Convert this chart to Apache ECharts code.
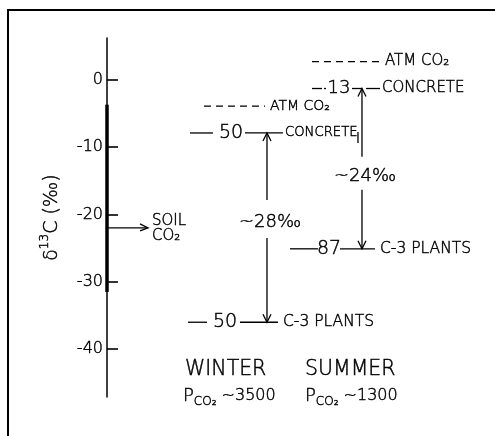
<!DOCTYPE html>
<html><head><meta charset="utf-8">
<script src="https://cdn.jsdelivr.net/npm/echarts@6/dist/echarts.min.js"></script>
<style>html,body{margin:0;padding:0;background:#fff}#c{width:495px;height:436px}</style>
</head><body><div id="c"></div>
<script>
// ---- data (δ13C values, ‰) ----
const seasons = ['WINTER', 'SUMMER'];
const pco2Values = ['~3500', '~1300'];
const atmCO2 = [-3.9, 2.7];
const concrete = [-7.9, -1.3];
const c3Plants = [-36.0, -25.1];
const concreteLabels = ['50', '13'];
const c3Labels = ['50', '87'];
const shiftLabels = ['~28‰', '~24‰'];
const soilCO2 = -22;
const soilRange = [-3.7, -31.5];
const yTicks = [0, -10, -20, -30, -40];

// ---- layout (pixel offsets relative to each column) ----
const colX = [42.1, 67.1];
const layout = [
  { atm: [-63, -2, 3, 14], con: [[-77, -54], [-22, 16]], conNum: [-36, 19], conLab: [18, 13.2], bar: [91, -1, 10],
    c3: [[-79, -60], [-27, 11]], c3Num: [-42, 19], c3Lab: [16, 15.5], shift: [3, -5.5, 22, 16], season: -82, pco2: -84 },
  { atm: [-50, 20, 23, 15], con: [[-50, -40], [-38, -36], [-10, 0], [4, 18]], conNum: [-23, 18], conLab: [20, 15], bar: null,
    c3: [[-72, -44], [-22, 13]], c3Num: [-33, 19], c3Lab: [18, 15.5], shift: [3, 8, 20, 13], season: -57, pco2: -57 }
];

const FONT = 'DejaVu Sans';
const WEIGHT = 200;
const INK = '#000';
const TEXT_STROKE = 0.45;
function seg(x1, x2, y1, y2, w) {
  return { type: 'line', shape: { x1: x1, y1: y1, x2: x2, y2: y2 }, style: { stroke: INK, lineWidth: w || 1.3 } };
}
function txt(x, y, text, size, align, extra) {
  return { type: 'text', x: x, y: y, style: Object.assign({ text: text, fontSize: size, fontFamily: FONT, fontWeight: WEIGHT, fill: INK,
    stroke: INK, lineWidth: TEXT_STROKE, align: align || 'left', verticalAlign: 'middle' }, extra || {}) };
}
function head(x, y, dir) {
  return { type: 'polyline', shape: { points: [[x - 4, y - dir * 8], [x, y], [x + 4, y - dir * 8]] },
    style: { stroke: INK, fill: null, lineWidth: 1.3 } };
}
// rich style for custom-series text (zrender style names)
function zrRich(size, va, lh) {
  const o = { fontSize: size, fontFamily: FONT, fontWeight: WEIGHT, fill: INK, stroke: INK, lineWidth: TEXT_STROKE, verticalAlign: va };
  if (lh) o.lineHeight = lh;
  return o;
}
// rich style for axis name (ECharts label option names)
function ecRich(size, va, lh) {
  const o = { fontSize: size, fontFamily: FONT, fontWeight: WEIGHT, color: INK, textBorderColor: INK, textBorderWidth: TEXT_STROKE, verticalAlign: va };
  if (lh) o.lineHeight = lh;
  return o;
}

function renderColumn(params, api) {
  const i = params.dataIndex;
  const L = layout[i];
  const cx = api.coord([api.value(0), 0])[0];
  const yAtm = api.coord([0, api.value(1)])[1];
  const yCon = api.coord([0, api.value(2)])[1];
  const yC3 = api.coord([0, api.value(3)])[1];
  const yBottom = api.coord([0, -47.1])[1];
  const ch = [];
  ch.push({ type: 'line', shape: { x1: cx + L.atm[0], y1: yAtm, x2: cx + L.atm[1], y2: yAtm },
    style: { stroke: INK, lineWidth: 1.2, lineDash: [7, 5] } });
  ch.push(txt(cx + L.atm[2], yAtm, 'ATM CO₂', L.atm[3]));
  L.con.forEach(s => ch.push(seg(cx + s[0], cx + s[1], yCon, yCon)));
  ch.push(txt(cx + L.conNum[0], yCon, concreteLabels[i], L.conNum[1], 'center'));
  ch.push(txt(cx + L.conLab[0], yCon, 'CONCRETE', L.conLab[1]));
  if (L.bar) ch.push(seg(cx + L.bar[0], cx + L.bar[0], yCon + L.bar[1], yCon + L.bar[2]));
  L.c3.forEach(s => ch.push(seg(cx + s[0], cx + s[1], yC3, yC3)));
  ch.push(txt(cx + L.c3Num[0], yC3, c3Labels[i], L.c3Num[1], 'center'));
  ch.push(txt(cx + L.c3Lab[0], yC3, 'C-3 PLANTS', L.c3Lab[1]));
  const yLab = (yCon + yC3) / 2 + L.shift[1];
  ch.push(seg(cx, cx, yLab - L.shift[2], yCon));
  ch.push(head(cx, yCon, -1));
  ch.push(seg(cx, cx, yLab + L.shift[3], yC3));
  ch.push(head(cx, yC3, 1));
  ch.push(txt(cx + L.shift[0], yLab, shiftLabels[i], 18, 'center'));
  ch.push(txt(cx + L.season, yBottom - 27, seasons[i], 20.5));
  ch.push({ type: 'text', x: cx + L.pco2, y: yBottom - 1, style: {
    text: '{p|P}{s|CO₂}{n| ' + pco2Values[i] + '}', fontSize: 17, fontFamily: FONT, fontWeight: WEIGHT, fill: INK,
    align: 'left', verticalAlign: 'middle',
    rich: { p: zrRich(18, 'middle', 24), s: zrRich(12, 'bottom'), n: zrRich(16, 'middle', 24) }
  } });
  return { type: 'group', children: ch };
}

function renderSoil(params, api) {
  const p0 = api.coord([0, api.value(0)]);
  const pa = api.coord([0, soilRange[0]]);
  const pb = api.coord([0, soilRange[1]]);
  const x = p0[0], y = p0[1];
  return { type: 'group', children: [
    seg(x, x, pa[1], pb[1], 3.5),
    seg(x, x + 41, y, y, 1.3),
    { type: 'polyline', shape: { points: [[x + 33, y - 4], [x + 41, y], [x + 33, y + 3]] }, style: { stroke: INK, fill: null, lineWidth: 1.3 } },
    txt(x + 45, y - 7, 'SOIL', 15),
    txt(x + 45, y + 8, 'CO₂', 15)
  ] };
}

const chart = echarts.init(document.getElementById('c'));
chart.setOption({
  animation: false,
  backgroundColor: '#fff',
  grid: { left: 107, right: 8, top: 38, bottom: 39 },
  xAxis: { type: 'value', min: 0, max: 100, show: false },
  yAxis: {
    type: 'value', min: -47.1, max: 6.2,
    axisLine: { show: true, onZero: false, lineStyle: { color: INK, width: 1.5 } },
    axisTick: { show: true, inside: true, length: 11, customValues: yTicks, lineStyle: { color: INK, width: 1.6 } },
    axisLabel: { customValues: yTicks, fontSize: 16, fontFamily: FONT, fontWeight: WEIGHT, color: INK, margin: 4,
      textBorderColor: INK, textBorderWidth: TEXT_STROKE },
    splitLine: { show: false },
    name: '{a|δ}{b|13}{a|C (‰)}', nameLocation: 'middle', nameRotate: 90, nameGap: 42,
    nameTextStyle: { fontFamily: FONT, fontWeight: WEIGHT, color: INK, fontSize: 19,
      rich: { a: ecRich(19, 'middle', 26), b: ecRich(12, 'top') } }
  },
  graphic: [{ type: 'polyline', shape: { points: [[8, 436], [8, 10], [495, 10]] }, style: { stroke: INK, lineWidth: 2, fill: null } }],
  series: [
    { type: 'custom', renderItem: renderSoil, data: [[soilCO2]], encode: { y: 0 }, silent: true },
    { type: 'custom', renderItem: renderColumn, silent: true,
      data: seasons.map((s, i) => [colX[i], atmCO2[i], concrete[i], c3Plants[i]]), encode: { x: 0, y: [1, 2, 3] } }
  ]
});
</script></body></html>
